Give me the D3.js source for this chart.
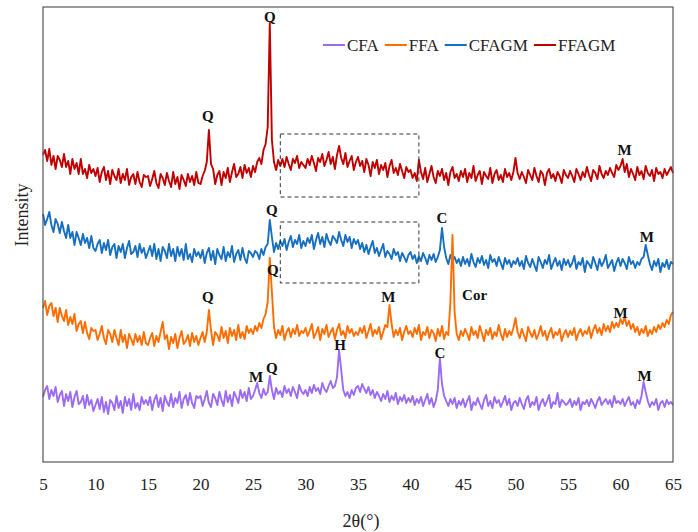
<!DOCTYPE html>
<html>
<head>
    <meta charset='utf-8'>
    <style>
        body { margin: 0; background: #fff; }
        text { font-family: 'Liberation Serif', 'Times New Roman', serif; }
    </style>
</head>
<body>
    <svg width="698" height="532"></svg>
    <script src="https://d3js.org/d3.v7.min.js"></script>
    <script>
        // 2theta grid, 5..65 every 0.2 deg
        var twoTheta = d3.range(0, 301).map(function(i) { return +(5 + i * 0.2).toFixed(1); });
        var xTicks = [5, 10, 15, 20, 25, 30, 35, 40, 45, 50, 55, 60, 65];

        // intensities (a.u.), one row per 5 deg
        var ffagm = [
            307,312,301,313,297,306,293,306,302,295,308,295,301,288,303,293,299,288,303,288,293,284,297,289,293,
            286,294,280,290,295,282,291,278,292,286,282,293,279,288,282,293,277,285,288,278,290,280,275,287,285,
            286,276,283,291,279,274,288,284,277,289,281,275,290,278,285,273,287,282,276,288,280,286,277,290,279,
            278,286,291,300,332,298,293,278,287,291,277,290,284,294,280,290,298,285,288,295,284,297,289,294,285,
            296,290,300,304,298,312,318,335,439,322,300,292,302,296,303,295,305,298,292,303,299,306,294,300,297,
            294,303,297,306,299,291,304,300,308,296,302,310,298,305,293,307,316,304,298,309,295,301,306,292,300,
            305,296,301,290,303,297,286,300,294,302,288,297,292,299,285,296,302,289,294,287,298,291,284,295,290,
            292,284,289,281,302,290,283,294,280,288,296,285,279,291,286,293,282,289,277,290,295,284,288,281,291,
            285,293,280,289,284,296,281,287,291,278,290,286,283,294,279,288,292,282,287,280,293,285,289,282,290,
            304,289,283,290,285,279,292,287,282,294,286,280,291,288,277,289,293,284,288,281,290,286,279,292,287,
            284,291,286,280,293,288,282,290,285,295,287,281,292,289,283,296,288,284,291,287,294,289,285,297,292,
            296,303,290,298,285,293,288,282,295,287,291,283,296,289,286,292,281,294,288,290,284,293,287,291,295,
            289
        ];
        var cfagm = [
            248,237,243,250,237,230,243,238,229,240,231,224,237,224,230,217,230,224,217,228,219,224,214,226,214,
            211,218,222,209,219,212,222,207,215,218,204,216,210,218,204,214,221,208,210,216,205,218,209,214,204,
            210,216,206,218,203,213,201,215,211,204,218,206,213,201,215,206,213,202,218,203,208,200,213,206,210,
            204,212,199,209,214,202,211,198,213,207,203,215,201,210,205,216,200,208,212,202,214,204,199,211,209,
            205,211,209,203,213,207,215,218,242,225,210,219,213,221,216,223,212,220,226,215,222,218,227,214,221,
            216,224,219,227,213,222,229,218,225,215,228,221,217,226,223,219,230,222,216,227,220,225,214,223,218,
            222,213,219,210,217,208,215,221,209,214,206,212,218,205,211,208,203,213,207,210,201,209,205,200,207,
            210,203,207,199,206,201,209,204,198,207,202,208,200,205,212,234,215,204,198,207,201,205,199,203,196,
            205,198,203,196,208,200,195,204,199,206,197,202,194,207,200,203,196,205,199,193,204,198,202,195,201,
            198,204,196,201,193,206,199,195,203,197,191,205,200,194,202,198,207,193,199,204,196,201,192,203,197,
            202,195,199,206,193,200,197,204,190,201,198,194,205,199,192,203,196,200,207,194,198,202,191,199,204,
            196,203,199,193,205,198,201,194,200,197,203,205,217,207,198,192,201,196,203,190,199,195,202,193,200,
            198
        ];
        var ffa = [
            154,161,147,156,159,146,154,140,154,146,141,152,137,145,138,148,131,138,141,129,140,129,123,134,131,
            132,122,128,136,124,118,132,128,120,132,124,117,132,120,127,114,128,123,117,128,120,126,117,130,119,
            117,124,129,116,126,120,130,140,123,127,113,125,119,128,114,124,131,118,121,127,116,129,120,126,117,
            124,130,120,130,152,132,117,130,127,121,135,124,131,119,134,126,132,122,137,124,130,123,136,129,133,
            128,136,131,139,134,143,148,160,204,170,135,124,132,127,136,122,130,134,125,133,128,137,126,131,129,
            134,126,131,138,124,129,135,122,133,128,137,125,130,134,123,132,138,127,131,124,136,129,133,126,130,
            127,134,129,136,124,131,138,126,132,128,135,123,130,137,135,157,138,125,132,127,134,122,130,136,128,
            131,125,134,128,137,122,130,127,135,124,132,129,121,133,126,136,123,130,127,160,227,150,128,122,131,
            126,133,128,122,135,127,131,124,136,129,121,132,127,134,123,130,126,137,128,122,133,125,131,127,134,
            144,130,124,133,127,121,135,129,125,132,123,128,136,126,131,122,129,134,124,130,127,133,121,128,132,
            125,131,127,134,122,129,133,126,131,128,135,124,132,137,129,134,127,138,131,136,130,140,134,139,135,
            143,138,145,136,141,133,138,130,135,127,133,129,136,126,132,128,135,130,137,133,139,135,142,138,147,
            150
        ];
        var cfa = [
            65,72,76,63,72,66,75,60,67,71,56,68,61,70,55,65,71,58,60,66,54,67,57,62,51,
            57,63,53,65,50,60,48,62,59,52,66,54,61,49,65,56,63,52,68,54,59,52,65,58,62,
            57,65,52,62,67,55,64,51,66,60,56,68,55,64,59,70,54,63,67,57,69,59,54,66,64,
            66,56,63,71,59,55,68,64,57,70,62,56,71,60,67,56,70,65,59,72,64,70,61,74,63,
            66,72,79,69,64,73,67,70,86,72,63,74,68,71,65,76,69,73,66,75,70,64,77,71,68,
            72,66,75,69,77,71,74,68,79,73,70,76,81,74,76,85,112,92,72,66,70,64,72,67,74,
            76,70,78,73,69,75,67,72,64,70,66,61,68,63,71,60,66,62,69,58,65,61,67,59,64,
            60,66,57,63,59,65,56,62,68,58,64,55,61,72,104,78,66,61,56,63,58,64,54,61,57,
            63,55,61,66,52,60,57,64,58,53,62,67,56,61,54,65,59,62,55,60,66,57,63,52,59,
            61,56,64,58,53,62,66,55,60,57,65,52,59,63,56,61,67,54,60,58,69,55,62,60,57,
            59,63,55,61,57,64,52,60,58,62,56,63,59,54,61,65,57,60,63,58,62,55,66,59,61,
            58,63,56,61,65,57,60,54,62,58,66,80,70,61,55,60,57,63,52,59,61,55,62,58,60,
            57
        ];

        var seriesNames = ['CFA', 'FFA', 'CFAGM', 'FFAGM'];
        var seriesColors = ['#9b6bf2', '#ff6d00', '#176fbf', '#c00000'];
        var seriesData = [cfa, ffa, cfagm, ffagm];
        var drawOrder = [2, 3, 1, 0];

        // phase labels: [text, 2theta, intensity]
        var peakLabels = [
            ['Q', 20.7, 346], ['Q', 26.6, 445], ['M', 60.4, 312],
            ['Q', 26.8, 252], ['C', 43.0, 244], ['M', 62.5, 225],
            ['Q', 20.7, 165], ['Q', 26.9, 192], ['M', 37.9, 165], ['Cor', 46.1, 167], ['M', 60.0, 149],
            ['M', 25.3, 85], ['Q', 26.8, 94], ['H', 33.3, 117], ['C', 42.8, 109], ['M', 62.3, 86]
        ];
        // dashed boxes: [x0, x1, y0, y1]
        var boxes = [[27.6, 40.8, 265, 328], [27.6, 40.8, 179, 240]];

        var svg = d3.select('svg'),
            margin = {top: 7, right: 25, bottom: 70, left: 43},
            width = +svg.attr('width') - margin.left - margin.right,
            height = +svg.attr('height') - margin.top - margin.bottom;

        var g = svg.append('g').attr('transform', 'translate(' + margin.left + ',' + margin.top + ')');

        var x = d3.scaleLinear().domain([5, 65]).range([0, width]);
        var y = d3.scaleLinear().domain([0, 455]).range([height, 0]);

        // x axis labels, no tick marks
        var xAxis = g.append('g')
            .attr('transform', 'translate(0,' + height + ')')
            .call(d3.axisBottom(x).tickValues(xTicks).tickSize(0).tickPadding(16));
        xAxis.select('.domain').remove();
        xAxis.selectAll('text')
            .style('font-family', "'Liberation Serif', serif")
            .style('font-size', '17px')
            .attr('fill', '#222');

        var line = d3.line()
            .x(function(d, i) { return x(twoTheta[i]); })
            .y(function(d) { return y(d); });

        drawOrder.forEach(function(k) {
            g.append('path')
                .datum(seriesData[k])
                .attr('fill', 'none')
                .attr('stroke', seriesColors[k])
                .attr('stroke-width', 1.9)
                .attr('stroke-linejoin', 'round')
                .attr('d', line);
        });

        g.selectAll('.box')
            .data(boxes)
            .enter().append('rect')
            .attr('class', 'box')
            .attr('x', function(d) { return x(d[0]); })
            .attr('y', function(d) { return y(d[3]); })
            .attr('width', function(d) { return x(d[1]) - x(d[0]); })
            .attr('height', function(d) { return y(d[2]) - y(d[3]); })
            .attr('fill', 'none')
            .attr('stroke', '#333')
            .attr('stroke-width', 1)
            .attr('stroke-dasharray', '4,3');

        g.selectAll('.peak')
            .data(peakLabels)
            .enter().append('text')
            .attr('class', 'peak')
            .attr('x', function(d) { return x(d[1]); })
            .attr('y', function(d) { return y(d[2]); })
            .attr('dy', '0.35em')
            .attr('text-anchor', 'middle')
            .style('font-size', '15px')
            .style('font-weight', 'bold')
            .attr('fill', '#111')
            .text(function(d) { return d[0]; });

        // frame
        g.append('rect')
            .attr('width', width)
            .attr('height', height)
            .attr('fill', 'none')
            .attr('stroke', '#555')
            .attr('stroke-width', 1.2);

        // legend
        var lx = 323, ly = 45;
        seriesNames.forEach(function(name, k) {
            svg.append('line')
                .attr('x1', lx).attr('x2', lx + 22)
                .attr('y1', ly).attr('y2', ly)
                .attr('stroke', seriesColors[k])
                .attr('stroke-width', 2);
            var t = svg.append('text')
                .attr('x', lx + 24)
                .attr('y', ly)
                .attr('dy', '0.35em')
                .style('font-size', '17px')
                .attr('fill', '#222')
                .text(name);
            lx += 24 + t.node().getComputedTextLength() + 6;
        });

        // axis titles
        svg.append('text')
            .attr('x', margin.left + width / 2 + 3)
            .attr('y', 527)
            .attr('text-anchor', 'middle')
            .style('font-size', '18px')
            .attr('fill', '#222')
            .text('2θ(°)');

        svg.append('text')
            .attr('transform', 'translate(28,215) rotate(-90)')
            .attr('text-anchor', 'middle')
            .style('font-size', '18px')
            .attr('fill', '#222')
            .text('Intensity');
    </script>
</body>
</html>
